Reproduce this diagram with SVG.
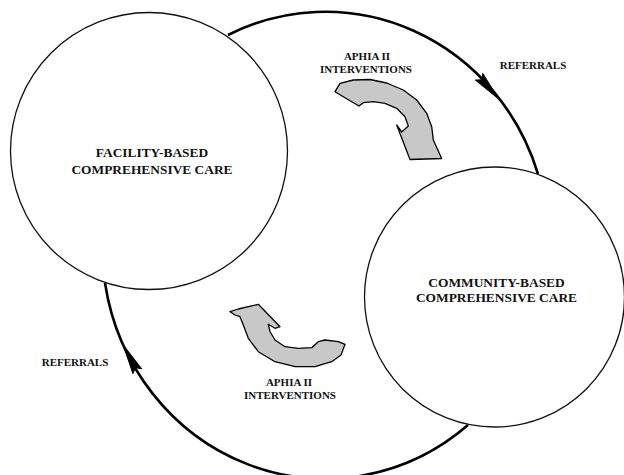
<svg xmlns="http://www.w3.org/2000/svg" width="624" height="475" viewBox="0 0 624 475">
<style>
.lbl{font-family:"Liberation Serif","Times New Roman",serif;font-weight:bold;fill:#111;text-anchor:middle}
.s{font-size:11px}
.m{font-size:13.4px}
.node{fill:#fff;stroke:#111;stroke-width:1.3}
.ref{fill:none;stroke:#000;stroke-width:2.6}
.head{fill:#000;stroke:#000;stroke-width:1}
.blk{fill:#c8c8c8;stroke:#000;stroke-width:1.3;stroke-linejoin:round}
</style>
<rect width="624" height="475" fill="#fff"/>
<g id="connectors">
<path class="ref" d="M228,35 A223,232 0 0,1 538,174"/>
<path class="ref" d="M468,425 A223,232 0 0,1 105,283"/>
<polygon class="head" points="498.9,99.2 482.8,73.5 481.7,79.8 475.4,80.1"/>
<polygon class="head" points="123.1,344.8 141.7,368.8 135.4,367.7 132.9,373.6"/>
<polygon class="blk" points="335,91.7 340,83.3 353.3,80 370,79.5 386.7,83 403.3,90 416.7,100 426.7,113.3 431.7,126.7 433.3,140 441.7,158.5 410,159.5 396.7,125 401.7,132 408.3,126 405,116.7 396.7,108.3 385,103.3 373.3,101.7 363.3,102.7 359,106 343.3,96.7"/>
<polygon class="blk" points="230,311.7 238.3,309 258.3,304.3 280,326.7 275,328.3 268.3,324.3 270,331.7 275,340 285,346.7 298.3,348.3 311.7,347.7 318.3,341.7 325,340 338.3,341.7 345,344.3 341,355 331.7,361.7 315,366.7 295,366.7 275,361.7 258.3,351.7 248.3,338.3 243.3,325 240,316.7 235,315"/>
<text class="lbl s" x="367" y="60">APHIA II</text>
<text class="lbl s" x="366" y="73">INTERVENTIONS</text>
<text class="lbl s" x="289" y="386">APHIA II</text>
<text class="lbl s" x="290" y="399">INTERVENTIONS</text>
<text class="lbl s" x="533" y="69">REFERRALS</text>
<text class="lbl s" x="75" y="366">REFERRALS</text>
</g>
<g id="facility">
<circle class="node" cx="149" cy="151" r="138.5"/>
<text class="lbl m" x="152" y="157">FACILITY-BASED</text>
<text class="lbl m" x="152" y="173.5">COMPREHENSIVE CARE</text>
</g>
<g id="community">
<circle class="node" cx="494.5" cy="297" r="130"/>
<text class="lbl m" x="496.5" y="287">COMMUNITY-BASED</text>
<text class="lbl m" x="496.5" y="302">COMPREHENSIVE CARE</text>
</g>
</svg>
